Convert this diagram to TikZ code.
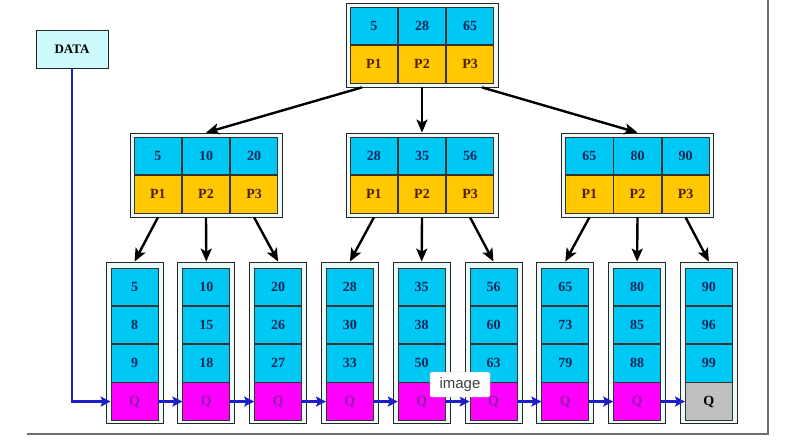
\documentclass[tikz,border=0pt]{standalone}
\usepackage{fontspec}
\setmainfont{Liberation Serif}
\newfontfamily\tipfont{Liberation Sans}
\usetikzlibrary{positioning,arrows.meta}

\begin{document}
\begin{tikzpicture}[x=1pt, y=-1pt, >=stealth,
    cell/.style={draw=black!80, line width=0.8pt, minimum width=47.3pt,
      minimum height=37.5pt, inner sep=0pt,
      font=\fontsize{14}{16}\selectfont\bfseries},
    keycell/.style={cell, fill=keyblue, text=keytext},
    ptrcell/.style={cell, fill=ptryellow, text=ptrtext},
    nodeframe/.style={draw=black!85, fill=framefill, line width=0.8pt, inner sep=0pt},
    datanode/.style={draw=black!85, fill=datafill, line width=0.8pt,
      minimum width=72pt, minimum height=38pt,
      font=\fontsize{13}{15}\selectfont\bfseries},
    treearrow/.style={-{Stealth[length=13pt, width=11pt, inset=3pt]}, line width=2.4pt},
    leafarrow/.style={-{Stealth[length=10pt, width=10pt, inset=2pt]}, line width=2.6pt, draw=linkblue},
    tooltip/.style={draw=black!25, fill=white, rounded corners=2pt,
      minimum width=60pt, minimum height=25pt, inner sep=2pt,
      text=black!75, font=\tipfont\fontsize{15}{17}\selectfont}]
    \definecolor{keyblue}{RGB}{0,200,245}
    \definecolor{keytext}{RGB}{10,40,90}
    \definecolor{ptryellow}{RGB}{255,200,0}
    \definecolor{ptrtext}{RGB}{80,30,0}
    \definecolor{qmagenta}{RGB}{255,0,255}
    \definecolor{qtext}{RGB}{140,30,170}
    \definecolor{qgray}{RGB}{192,192,192}
    \definecolor{framefill}{RGB}{236,250,250}
    \definecolor{datafill}{RGB}{205,250,250}
    \definecolor{linkblue}{RGB}{30,30,200}
    \definecolor{shadowgray}{RGB}{110,110,110}

    \useasboundingbox (0,0) rectangle (809,447);

    % page edge shadow
    \draw[line width=2.5pt, shadowgray] (768,0) |- (27,434);

    % root and second level: keys on top, pointers below
    \foreach \n/\x/\y/\a/\b/\c in {root/422/45/5/28/65, nl/206/175/5/10/20,
        nm/422/175/28/35/56, nr/637.5/175/65/80/90} {
      \node[nodeframe, minimum width=152pt, minimum height=84pt] (\n) at (\x,\y) {};
      \node[keycell, anchor=south] (\n k2) at (\n.center) {\b};
      \node[keycell, left=0pt of \n k2] (\n k1) {\a};
      \node[keycell, right=0pt of \n k2] (\n k3) {\c};
      \node[ptrcell, below=0pt of \n k2] (\n p2) {P2};
      \node[ptrcell, left=0pt of \n p2] (\n p1) {P1};
      \node[ptrcell, right=0pt of \n p2] (\n p3) {P3};
    }

    % leaves: three keys and the Q link
    \foreach \i/\x/\a/\b/\c/\qf/\qt in {1/134.5/5/8/9/qmagenta/qtext,
        2/206.3/10/15/18/qmagenta/qtext, 3/278.1/20/26/27/qmagenta/qtext,
        4/349.9/28/30/33/qmagenta/qtext, 5/421.7/35/38/50/qmagenta/qtext,
        6/493.5/56/60/63/qmagenta/qtext, 7/565.3/65/73/79/qmagenta/qtext,
        8/637.1/80/85/88/qmagenta/qtext, 9/708.9/90/96/99/qgray/black} {
      \node[nodeframe, minimum width=57pt, minimum height=161pt] (L\i) at (\x,342.5) {};
      \node[keycell, minimum width=47pt, anchor=north] (L\i a) at (\x,267.5) {\a};
      \node[keycell, minimum width=47pt, below=0pt of L\i a] (L\i b) {\b};
      \node[keycell, minimum width=47pt, below=0pt of L\i b] (L\i c) {\c};
      \node[cell, minimum width=47pt, fill=\qf, text=\qt, below=0pt of L\i c] (L\i q) {Q};
    }

    % tree pointers
    \draw[treearrow] ([xshift=-60pt]root.south) -- (nl.north);
    \draw[treearrow] (root.south) -- (nm.north);
    \draw[treearrow] ([xshift=60pt]root.south) -- (nr.north);
    \foreach \n/\u/\v/\w in {nl/1/2/3, nm/4/5/6, nr/7/8/9} {
      \draw[treearrow] (\n p1 |- \n.south) -- (L\u.north);
      \draw[treearrow] (\n p2 |- \n.south) -- (L\v.north);
      \draw[treearrow] (\n p3 |- \n.south) -- (L\w.north);
    }

    % data entry and leaf chain
    \node[datanode] (data) at (72,49) {DATA};
    \draw[leafarrow] (data.south) |- (L1q.west);
    \foreach \i/\j in {1/2, 2/3, 3/4, 4/5, 5/6, 6/7, 7/8, 8/9}
      \draw[leafarrow] (L\i q.east) -- (L\j q.west);

    \node[tooltip] (tip) at (460,384.5) {image};
  \end{tikzpicture}
\end{document}
